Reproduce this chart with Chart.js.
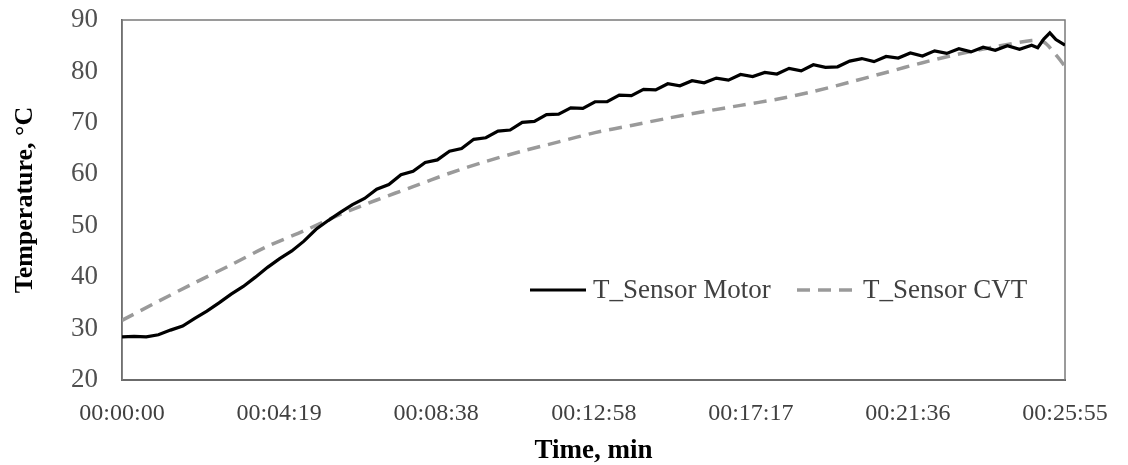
<!DOCTYPE html>
<html>
<head>
  <title>Temperature sensors</title>
  <style>
    body { margin: 0; background: #fff; }
    #chart-container { width: 1128px; height: 465px; }
  </style>
</head>
<body>
  <div id="chart-container">
    <canvas id="temp-chart"></canvas>
  </div>

  <script src="https://cdn.jsdelivr.net/npm/chart.js"></script>
  <script>
    // time in seconds, temperatures in °C
    const motorTime = [0, 20, 40, 60, 80, 100, 120, 140, 160, 180, 200, 220, 240, 260, 280, 300,
      320, 340, 360, 380, 400, 420, 440, 460, 480, 500, 520, 540, 560, 580, 600, 620, 640, 660,
      680, 700, 720, 740, 760, 780, 800, 820, 840, 860, 880, 900, 920, 940, 960, 980, 1000, 1020,
      1040, 1060, 1080, 1100, 1120, 1140, 1160, 1180, 1200, 1220, 1240, 1260, 1280, 1300, 1320,
      1340, 1360, 1380, 1400, 1420, 1440, 1460, 1480, 1500, 1510, 1520, 1530, 1540, 1555];
    const motorTemp = [28.4, 28.5, 28.4, 28.8, 29.7, 30.5, 32.0, 33.4, 35.0, 36.7, 38.2, 40.0,
      41.9, 43.6, 45.1, 47.0, 49.3, 51.0, 52.6, 54.1, 55.3, 57.1, 58.0, 59.9, 60.6, 62.3, 62.8,
      64.5, 65.0, 66.8, 67.1, 68.4, 68.6, 70.1, 70.3, 71.6, 71.7, 72.9, 72.8, 74.1, 74.1, 75.4,
      75.3, 76.5, 76.4, 77.6, 77.2, 78.2, 77.8, 78.7, 78.3, 79.4, 79.0, 79.8, 79.5, 80.6, 80.1,
      81.3, 80.8, 80.9, 82.0, 82.5, 81.9, 82.9, 82.6, 83.6, 83.0, 84.0, 83.5, 84.4, 83.8, 84.7,
      84.1, 85.0, 84.3, 85.1, 84.6, 86.3, 87.5, 86.2, 85.1];

    const cvtTime = [0, 60, 120, 180, 240, 300, 360, 420, 480, 540, 600, 660, 720, 780, 840,
      900, 960, 1020, 1080, 1140, 1200, 1260, 1320, 1380, 1440, 1500, 1520, 1540, 1555];
    const cvtTemp = [31.6, 35.3, 38.9, 42.4, 46.0, 49.0, 52.2, 55.0, 57.6, 60.2, 62.5, 64.5,
      66.3, 68.1, 69.5, 70.9, 72.2, 73.4, 74.6, 76.1, 77.9, 79.8, 81.7, 83.4, 84.8, 86.0, 85.7,
      83.2, 81.0];

    const tickSeconds = [0, 259, 518, 778, 1037, 1296, 1555];
    const tickLabels = ['00:00:00', '00:04:19', '00:08:38', '00:12:58', '00:17:17', '00:21:36', '00:25:55'];

    const toPoints = (xs, ys) => xs.map((x, i) => ({ x: x, y: ys[i] }));

    // box round the plot area
    const frame = {
      id: 'frame',
      beforeDatasetsDraw(chart) {
        const a = chart.chartArea;
        const ctx = chart.ctx;
        ctx.save();
        ctx.strokeStyle = '#7a7a7a';
        ctx.lineWidth = 1.5;
        ctx.strokeRect(a.left, a.top, a.right - a.left, a.bottom - a.top);
        ctx.restore();
      }
    };

    // legend drawn inside the plot, one row
    const innerLegend = {
      id: 'innerLegend',
      afterDatasetsDraw(chart) {
        const ctx = chart.ctx;
        const ds = chart.data.datasets;
        const y = 290;
        const items = [{ x: 530, tx: 593 }, { x: 797, tx: 863 }];
        ctx.save();
        ctx.font = '27px "Liberation Serif"';
        ctx.fillStyle = '#404040';
        ctx.textBaseline = 'middle';
        items.forEach((it, i) => {
          ctx.strokeStyle = ds[i].borderColor;
          ctx.lineWidth = ds[i].borderWidth;
          ctx.setLineDash(ds[i].borderDash || []);
          ctx.beginPath();
          ctx.moveTo(it.x, y);
          ctx.lineTo(it.x + 56, y);
          ctx.stroke();
          ctx.setLineDash([]);
          ctx.fillText(ds[i].label, it.tx, y + 1);
        });
        ctx.restore();
      }
    };

    const ctx = document.getElementById('temp-chart').getContext('2d');
    new Chart(ctx, {
      type: 'line',
      data: {
        datasets: [{
          label: 'T_Sensor Motor',
          data: toPoints(motorTime, motorTemp),
          borderColor: '#000000',
          borderWidth: 3.2,
          pointRadius: 0,
          tension: 0
        }, {
          label: 'T_Sensor CVT',
          data: toPoints(cvtTime, cvtTemp),
          borderColor: '#9a9a9a',
          borderWidth: 3.5,
          borderDash: [13, 8],
          pointRadius: 0,
          tension: 0.3
        }]
      },
      options: {
        responsive: true,
        maintainAspectRatio: false,
        animation: false,
        devicePixelRatio: 1,
        layout: { padding: { left: 0, right: 63, top: 20, bottom: 0 } },
        plugins: {
          legend: { display: false },
          tooltip: { enabled: false }
        },
        scales: {
          x: {
            type: 'linear',
            min: 0,
            max: 1555,
            afterBuildTicks: scale => { scale.ticks = tickSeconds.map(v => ({ value: v })); },
            afterFit: scale => { scale.height = 85; },
            grid: { display: false, drawTicks: false },
            border: { display: true, color: '#404040', width: 2 },
            ticks: {
              autoSkip: false,
              maxRotation: 0,
              padding: 19,
              color: '#404040',
              font: { family: 'Liberation Serif', size: 24 },
              callback: (v, i) => tickLabels[i]
            },
            title: {
              display: true,
              text: 'Time, min',
              color: '#000',
              padding: { top: 0, bottom: 0 },
              font: { family: 'Liberation Serif', size: 27, weight: 'bold', lineHeight: 1 }
            }
          },
          y: {
            min: 20,
            max: 90,
            afterFit: scale => {
              scale.width = 122;
              scale.paddingTop = 0;
              scale.paddingBottom = 0;
            },
            grid: { display: false, drawTicks: false },
            border: { display: true, color: '#555555', width: 1.5 },
            ticks: {
              stepSize: 10,
              padding: 24,
              color: '#505050',
              font: { family: 'Liberation Serif', size: 27 }
            },
            title: {
              display: true,
              text: 'Temperature, °C',
              color: '#000',
              padding: { top: 10, bottom: 0 },
              font: { family: 'Liberation Serif', size: 26, weight: 'bold' }
            }
          }
        }
      },
      plugins: [frame, innerLegend]
    });
  </script>
</body>
</html>
